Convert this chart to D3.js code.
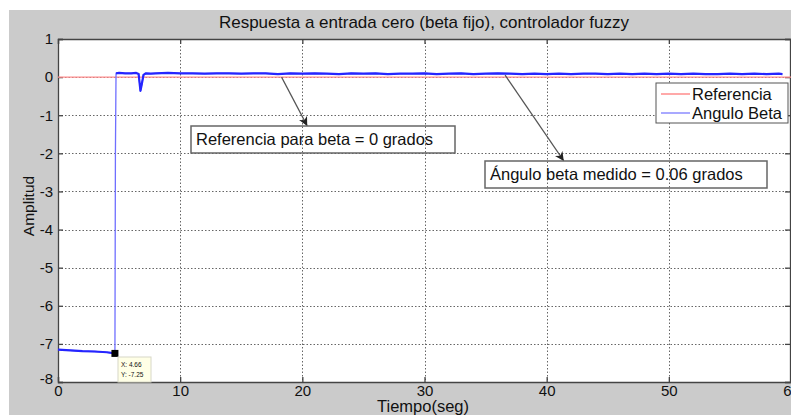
<!DOCTYPE html>
<html>
<head>
<meta charset="utf-8">
<script src="https://cdn.jsdelivr.net/npm/d3@7"></script>
<style>
  body { margin: 0; background: #fff; }
  text { font-family: "Liberation Sans", Arial, sans-serif; fill: #111; }
</style>
</head>
<body>
<div id="chart"></div>
<script>
// tick labels
const xTicks = [0, 10, 20, 30, 40, 50, 60]
const yTicks = [1, 0, -1, -2, -3, -4, -5, -6, -7, -8]

// reference series (beta = 0)
const refTime = [0, 60]
const refValue = [0, 0]

const betaTime = [0, 1, 2, 3, 4, 4.66, 4.7, 4.75, 5, 5.5, 6, 6.4, 6.6, 6.75, 6.85, 7.0, 7.2, 7.6,
  8, 9, 10, 11, 12, 13, 14, 15, 16, 17, 18, 19, 20, 21, 22, 23, 24, 25, 26, 27, 28, 29, 30,
  31, 32, 33, 34, 35, 36, 37, 38, 39, 40, 41, 42, 43, 44, 45, 46, 47, 48, 49, 50,
  51, 52, 53, 54, 55, 56, 57, 58, 59, 59.3]
const betaValue = [-7.15, -7.17, -7.19, -7.2, -7.22, -7.25, -2.0, 0.1, 0.11, 0.1, 0.1, 0.11, 0.08, -0.36, -0.2, 0.06, 0.1, 0.09,
  0.1, 0.11, 0.1, 0.1, 0.09, 0.1, 0.1, 0.09, 0.1, 0.1, 0.08, 0.1, 0.09, 0.1, 0.09, 0.08, 0.1, 0.09, 0.1, 0.08, 0.09, 0.09, 0.1,
  0.08, 0.09, 0.1, 0.08, 0.09, 0.1, 0.09, 0.08, 0.09, 0.08, 0.09, 0.08, 0.09, 0.09, 0.08, 0.09, 0.08, 0.09, 0.08, 0.09,
  0.08, 0.09, 0.08, 0.08, 0.09, 0.08, 0.09, 0.08, 0.09, 0.08]

const legendLabels = ['Referencia', 'Angulo Beta']
const colors = ['#ff8c8c', '#2525ff']

const W = 791, H = 416
const svg = d3.select('#chart').append('svg').attr('width', W).attr('height', H)

// grey figure background
svg.append('rect').attr('x', 9).attr('y', 10).attr('width', W - 9).attr('height', H - 11).attr('fill', '#cbcbcb')

const x = d3.scaleLinear().domain([0, 60]).range([58, 791])
const y = d3.scaleLinear().domain([-8, 1]).range([382, 39])

svg.append('rect').attr('x', x(0)).attr('y', y(1))
  .attr('width', x(60) - x(0)).attr('height', y(-8) - y(1)).attr('fill', '#fff')

// grid
const grid = svg.append('g').attr('stroke', '#666').attr('stroke-dasharray', '1.5,2').attr('stroke-width', 1)
grid.selectAll('.gx').data(xTicks.slice(1, -1)).enter().append('line')
  .attr('x1', d => Math.round(x(d)) + 0.5).attr('x2', d => Math.round(x(d)) + 0.5)
  .attr('y1', y(1)).attr('y2', y(-8))
grid.selectAll('.gy').data(yTicks.slice(1, -1)).enter().append('line')
  .attr('y1', d => Math.round(y(d)) + 0.5).attr('y2', d => Math.round(y(d)) + 0.5)
  .attr('x1', x(0)).attr('x2', x(60))

// axes (plain hyphen for negatives, like the original)
const fmt = d => String(d)
const xAxis = svg.append('g').attr('transform', `translate(0,${y(-8)})`)
  .call(d3.axisBottom(x).tickValues(xTicks).tickSize(-5).tickPadding(3).tickFormat(fmt))
const yAxis = svg.append('g').attr('transform', `translate(${x(0)},0)`)
  .call(d3.axisLeft(y).tickValues(yTicks).tickSize(-5).tickPadding(5).tickFormat(fmt))
const yAxisR = svg.append('g').attr('transform', `translate(${x(60) - 1},0)`)
  .call(d3.axisRight(y).tickValues(yTicks).tickSize(-5).tickFormat(''))
const xAxisT = svg.append('g').attr('transform', `translate(0,${y(1)})`)
  .call(d3.axisTop(x).tickValues(xTicks).tickSize(-5).tickFormat(''))
;[xAxis, yAxis, yAxisR, xAxisT].forEach(a => {
  a.selectAll('path, line').attr('stroke', '#444').attr('stroke-width', 1.3)
  a.selectAll('text').style('font-size', '15px').attr('fill', '#111')
})
// the "-8" label sits a little higher in the original
yAxis.selectAll('.tick').filter(d => d === -8).select('text').attr('dy', '0.1em')

// lines
const line = d3.line().x(d => x(d[0])).y(d => y(d[1]))
const beta = betaTime.map((t, i) => [t, betaValue[i]])
svg.append('path').datum(refTime.map((t, i) => [t, refValue[i]]))
  .attr('d', line).attr('fill', 'none').attr('stroke', colors[0]).attr('stroke-width', 1.3)
// whole trace thin and light (the fast rise shows like this)
svg.append('path').datum(beta)
  .attr('d', line).attr('fill', 'none').attr('stroke', '#6f6fff').attr('stroke-width', 1.3)
// noisy flat parts look thicker
;[beta.slice(0, 6), beta.slice(7)].forEach(seg => {
  svg.append('path').datum(seg)
    .attr('d', line).attr('fill', 'none').attr('stroke', colors[1]).attr('stroke-width', 2.2)
    .attr('stroke-linejoin', 'round')
})

// title and labels
svg.append('text').attr('x', 424).attr('y', 28).attr('text-anchor', 'middle').style('font-size', '17px')
  .text('Respuesta a entrada cero (beta fijo), controlador fuzzy')
svg.append('text').attr('x', 423).attr('y', 412).attr('text-anchor', 'middle').style('font-size', '16.5px')
  .text('Tiempo(seg)')
svg.append('text').attr('transform', 'translate(34,206) rotate(-90)').attr('text-anchor', 'middle')
  .style('font-size', '15.5px').text('Amplitud')

// legend
const lg = svg.append('g').attr('transform', 'translate(656,83)')
lg.append('rect').attr('width', 132).attr('height', 40).attr('fill', '#fff').attr('stroke', '#555')
legendLabels.forEach((l, i) => {
  lg.append('line').attr('x1', 5).attr('x2', 34).attr('y1', 11 + i * 19).attr('y2', 11 + i * 19)
    .attr('stroke', i ? '#8c8cff' : colors[0]).attr('stroke-width', 1.5)
  lg.append('text').attr('x', 36).attr('y', 17 + i * 19).style('font-size', '16.5px').text(l)
})

// annotations
svg.append('defs').append('marker').attr('id', 'arr').attr('viewBox', '0 0 10 10')
  .attr('refX', 10).attr('refY', 5).attr('markerWidth', 9).attr('markerHeight', 9).attr('orient', 'auto')
  .attr('markerUnits', 'userSpaceOnUse')
  .append('path').attr('d', 'M0,0 L10,5 L0,10 L3,5 Z').attr('fill', '#222')
const notes = [
  { from: [18.3, 0], to: [20.4, -1.28], box: [191, 126, 264, 27], text: 'Referencia para beta = 0 grados' },
  { from: [36.6, 0.05], to: [41.4, -2.2], box: [485, 161, 282, 27], text: 'Ángulo beta medido = 0.06 grados' }
]
notes.forEach(n => {
  svg.append('line').attr('x1', x(n.from[0])).attr('y1', y(n.from[1]))
    .attr('x2', x(n.to[0])).attr('y2', y(n.to[1]))
    .attr('stroke', '#555').attr('stroke-width', 1.2).attr('marker-end', 'url(#arr)')
  svg.append('rect').attr('x', n.box[0]).attr('y', n.box[1]).attr('width', n.box[2]).attr('height', n.box[3])
    .attr('fill', 'none').attr('stroke', '#666').attr('stroke-width', 1.5)
  svg.append('text').attr('x', n.box[0] + 5).attr('y', n.box[1] + 19).style('font-size', '16.5px').text(n.text)
})

// data tip
svg.append('rect').attr('x', x(4.66) - 3.5).attr('y', y(-7.25) - 3.5).attr('width', 7).attr('height', 7)
  .attr('fill', '#000')
const tip = svg.append('g').attr('transform', 'translate(118,357)')
tip.append('rect').attr('width', 33).attr('height', 25).attr('fill', '#ffffe6').attr('stroke', '#d8d8c8')
tip.append('text').attr('x', 3).attr('y', 10).style('font-size', '6.5px').text('X: 4.66')
tip.append('text').attr('x', 3).attr('y', 20).style('font-size', '6.5px').text('Y: -7.25')
</script>
</body>
</html>
